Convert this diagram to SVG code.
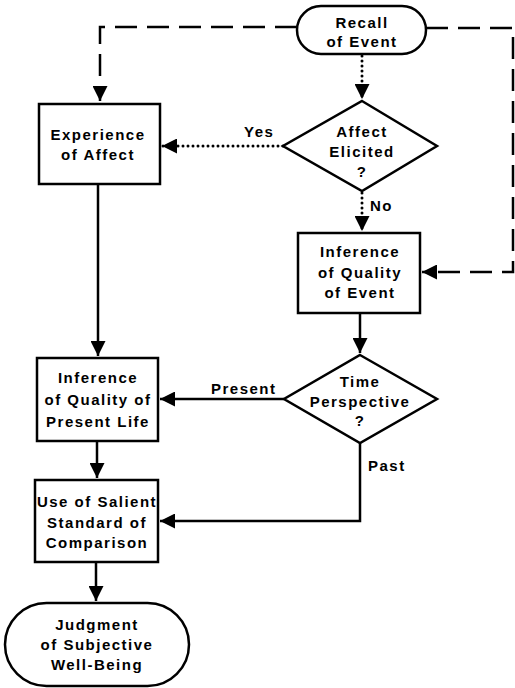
<svg xmlns="http://www.w3.org/2000/svg" width="515" height="688" viewBox="0 0 515 688">
<style>
.shape{fill:#fff;stroke:#000;stroke-width:2.5}
.t{font-family:"Liberation Sans",Arial,sans-serif;font-weight:bold;font-size:15px;letter-spacing:1.5px;fill:#000;text-anchor:middle}
.lbl{font-family:"Liberation Sans",Arial,sans-serif;font-weight:bold;font-size:15px;letter-spacing:1.5px;fill:#000}
.solid{fill:none;stroke:#000;stroke-width:2.5}
.dash{fill:none;stroke:#000;stroke-width:2.5;stroke-dasharray:22 10}
.dot{fill:none;stroke:#000;stroke-width:3;stroke-dasharray:0 5;stroke-linecap:round}
</style>
<defs>
<marker id="ah" markerUnits="userSpaceOnUse" markerWidth="16" markerHeight="15" refX="15" refY="7.5" orient="auto">
<path d="M0,0 L15,7.5 L0,15 z" fill="#000"/>
</marker>
</defs>
<g id="connectors">
<path class="dash" d="M297,27 H100 V101" marker-end="url(#ah)"/>
<path class="dash" d="M426,28 H513 V272 H422" marker-end="url(#ah)"/>
<path class="dot" d="M362,56 V99" marker-end="url(#ah)"/>
<path class="dot" d="M283,146 H162" marker-end="url(#ah)"/>
<path class="dot" d="M362,193 V231" marker-end="url(#ah)"/>
<path class="solid" d="M360,313 V353" marker-end="url(#ah)"/>
<path class="solid" d="M98,184 V356" marker-end="url(#ah)"/>
<path class="solid" d="M284,399 H160" marker-end="url(#ah)"/>
<path class="solid" d="M360,443 V521 H160" marker-end="url(#ah)"/>
<path class="solid" d="M97,441 V478" marker-end="url(#ah)"/>
<path class="solid" d="M96,562 V601" marker-end="url(#ah)"/>
<text class="lbl" x="244" y="137">Yes</text>
<text class="lbl" x="370" y="211">No</text>
<text class="lbl" x="211" y="394">Present</text>
<text class="lbl" x="368" y="471">Past</text>
</g>
<g id="recall">
<rect class="shape" x="297" y="6" width="129" height="48" rx="24"/>
<text class="t" x="362" y="28">Recall</text>
<text class="t" x="362" y="47">of Event</text>
</g>
<g id="experience">
<rect class="shape" x="39" y="104" width="121" height="80"/>
<text class="t" x="98" y="140">Experience</text>
<text class="t" x="98" y="160">of Affect</text>
</g>
<g id="affect-elicited">
<path class="shape" d="M362,101 L437,146 L362,191 L283,146 Z"/>
<text class="t" x="362" y="137">Affect</text>
<text class="t" x="362" y="157">Elicited</text>
<text class="t" x="362" y="177">?</text>
</g>
<g id="inference-event">
<rect class="shape" x="298" y="233" width="122" height="80"/>
<text class="t" x="360" y="257">Inference</text>
<text class="t" x="360" y="278">of Quality</text>
<text class="t" x="360" y="298">of Event</text>
</g>
<g id="time-perspective">
<path class="shape" d="M360,355 L437,399 L360,443 L284,399 Z"/>
<text class="t" x="360" y="387">Time</text>
<text class="t" x="360" y="407">Perspective</text>
<text class="t" x="360" y="426">?</text>
</g>
<g id="inference-present">
<rect class="shape" x="37" y="358" width="121" height="83"/>
<text class="t" x="98" y="383">Inference</text>
<text class="t" x="98" y="405">of Quality of</text>
<text class="t" x="98" y="427">Present Life</text>
</g>
<g id="salient">
<rect class="shape" x="35" y="480" width="123" height="82"/>
<text class="t" x="97" y="507">Use of Salient</text>
<text class="t" x="97" y="528">Standard of</text>
<text class="t" x="97" y="548">Comparison</text>
</g>
<g id="judgment">
<rect class="shape" x="5" y="603" width="184" height="83" rx="41.5"/>
<text class="t" x="97" y="630">Judgment</text>
<text class="t" x="97" y="650">of Subjective</text>
<text class="t" x="97" y="670">Well-Being</text>
</g>
</svg>
